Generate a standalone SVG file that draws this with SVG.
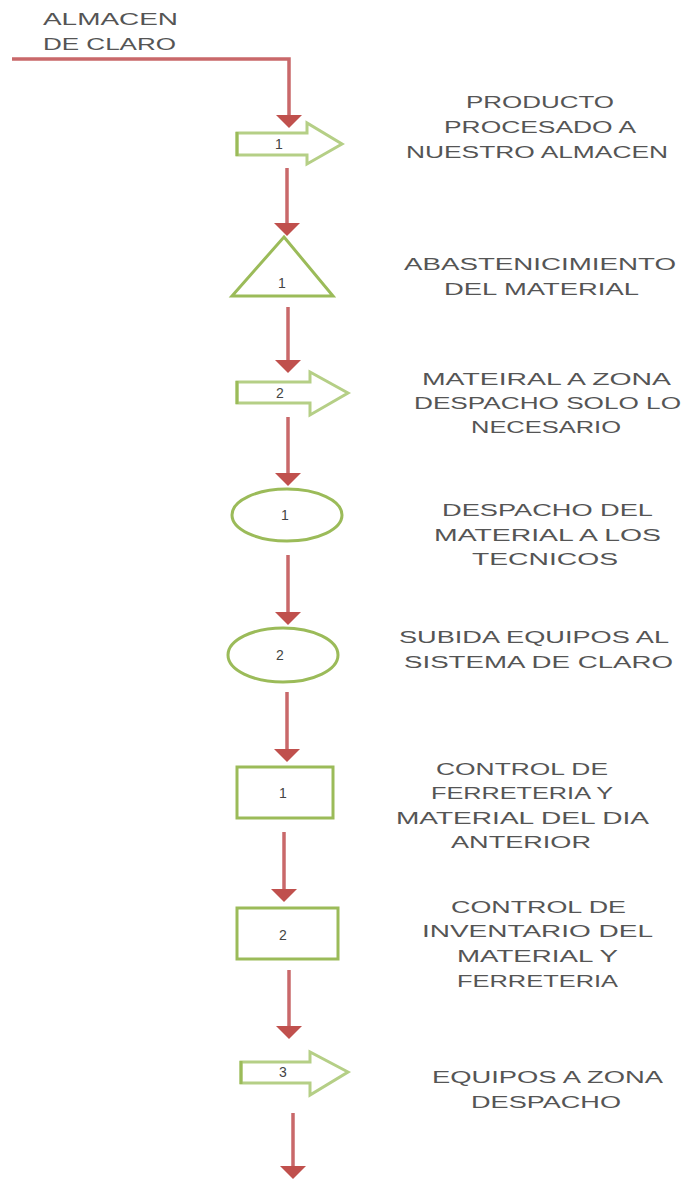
<svg xmlns="http://www.w3.org/2000/svg" width="685" height="1181" viewBox="0 0 685 1181">
<style>
  .lbl { font-family: "Liberation Sans", Arial, sans-serif; font-size: 16px; fill: #555555; }
  .num { font-family: "Liberation Sans", Arial, sans-serif; font-size: 14px; fill: #444444; text-anchor: middle; }
  .shape { fill: #ffffff; stroke: #9bbb59; stroke-width: 3; }
  .blk { fill: #ffffff; stroke: #b5cf86; stroke-width: 3; stroke-linejoin: miter; }
  .conn { fill: none; stroke: #c9686a; stroke-width: 3.5; }
</style>
<defs>
  <marker id="ah" markerUnits="userSpaceOnUse" markerWidth="14" markerHeight="28" refX="0" refY="14" orient="auto" viewBox="0 0 14 28">
    <path d="M0,1 L0,27 L13,14 Z" fill="#c0504d"/>
  </marker>
</defs>
<rect width="685" height="1181" fill="#ffffff"/>

<g id="start-label">
  <text class="lbl" x="43" y="25" textLength="135" lengthAdjust="spacingAndGlyphs">ALMACEN</text>
  <text class="lbl" x="43" y="50" textLength="133" lengthAdjust="spacingAndGlyphs">DE CLARO</text>
</g>

<g id="connectors">
  <polyline class="conn" points="12,59 289,59 289,115" marker-end="url(#ah)"/>
  <line class="conn" x1="287" y1="168" x2="287" y2="223" marker-end="url(#ah)"/>
  <line class="conn" x1="288" y1="307" x2="288" y2="360" marker-end="url(#ah)"/>
  <line class="conn" x1="288" y1="417" x2="288" y2="473" marker-end="url(#ah)"/>
  <line class="conn" x1="288" y1="555" x2="288" y2="612" marker-end="url(#ah)"/>
  <line class="conn" x1="287" y1="692" x2="287" y2="749" marker-end="url(#ah)"/>
  <line class="conn" x1="284" y1="832" x2="284" y2="889" marker-end="url(#ah)"/>
  <line class="conn" x1="289" y1="970" x2="289" y2="1026" marker-end="url(#ah)"/>
  <line class="conn" x1="293" y1="1113" x2="293" y2="1166" marker-end="url(#ah)"/>
</g>

<g id="node-transport-1">
  <polygon class="blk" points="237,133 307,133 307,123 342,144 307,164 307,155 237,155"/>
  <line x1="237" y1="132" x2="237" y2="156" stroke="#9bbb59" stroke-width="3"/>
  <text class="num" x="279" y="149">1</text>
  <text class="lbl" x="466" y="108" textLength="148" lengthAdjust="spacingAndGlyphs">PRODUCTO</text>
  <text class="lbl" x="444" y="133" textLength="192" lengthAdjust="spacingAndGlyphs">PROCESADO A</text>
  <text class="lbl" x="406" y="158" textLength="262" lengthAdjust="spacingAndGlyphs">NUESTRO ALMACEN</text>
</g>

<g id="node-storage-1">
  <polygon class="shape" points="284,237 333,296 232,296"/>
  <text class="num" x="282" y="288">1</text>
  <text class="lbl" x="404" y="270" textLength="272" lengthAdjust="spacingAndGlyphs">ABASTENICIMIENTO</text>
  <text class="lbl" x="444" y="295" textLength="195" lengthAdjust="spacingAndGlyphs">DEL MATERIAL</text>
</g>

<g id="node-transport-2">
  <polygon class="blk" points="237,382 310,382 310,372 348,393 310,415 310,403 237,403"/>
  <line x1="237" y1="381" x2="237" y2="404" stroke="#9bbb59" stroke-width="3"/>
  <text class="num" x="280" y="398">2</text>
  <text class="lbl" x="422" y="385" textLength="249" lengthAdjust="spacingAndGlyphs">MATEIRAL A ZONA</text>
  <text class="lbl" x="414" y="409" textLength="267" lengthAdjust="spacingAndGlyphs">DESPACHO SOLO LO</text>
  <text class="lbl" x="471" y="433" textLength="150" lengthAdjust="spacingAndGlyphs">NECESARIO</text>
</g>

<g id="node-operation-1">
  <ellipse class="shape" cx="287" cy="515" rx="55" ry="26"/>
  <text class="num" x="285" y="520">1</text>
  <text class="lbl" x="442" y="516" textLength="211" lengthAdjust="spacingAndGlyphs">DESPACHO DEL</text>
  <text class="lbl" x="434" y="541" textLength="227" lengthAdjust="spacingAndGlyphs">MATERIAL A LOS</text>
  <text class="lbl" x="472" y="565" textLength="146" lengthAdjust="spacingAndGlyphs">TECNICOS</text>
</g>

<g id="node-operation-2">
  <ellipse class="shape" cx="283" cy="655" rx="55" ry="27"/>
  <text class="num" x="280" y="660">2</text>
  <text class="lbl" x="399" y="643" textLength="270" lengthAdjust="spacingAndGlyphs">SUBIDA EQUIPOS AL</text>
  <text class="lbl" x="404" y="668" textLength="269" lengthAdjust="spacingAndGlyphs">SISTEMA DE CLARO</text>
</g>

<g id="node-inspection-1">
  <rect class="shape" x="237" y="767" width="96" height="51"/>
  <text class="num" x="283" y="798">1</text>
  <text class="lbl" x="436" y="775" textLength="172" lengthAdjust="spacingAndGlyphs">CONTROL DE</text>
  <text class="lbl" x="431" y="799" textLength="182" lengthAdjust="spacingAndGlyphs">FERRETERIA Y</text>
  <text class="lbl" x="396" y="824" textLength="253" lengthAdjust="spacingAndGlyphs">MATERIAL DEL DIA</text>
  <text class="lbl" x="451" y="848" textLength="140" lengthAdjust="spacingAndGlyphs">ANTERIOR</text>
</g>

<g id="node-inspection-2">
  <rect class="shape" x="237" y="908" width="101" height="51"/>
  <text class="num" x="283" y="940">2</text>
  <text class="lbl" x="451" y="913" textLength="175" lengthAdjust="spacingAndGlyphs">CONTROL DE</text>
  <text class="lbl" x="422" y="937" textLength="231" lengthAdjust="spacingAndGlyphs">INVENTARIO DEL</text>
  <text class="lbl" x="457" y="962" textLength="161" lengthAdjust="spacingAndGlyphs">MATERIAL Y</text>
  <text class="lbl" x="457" y="987" textLength="161" lengthAdjust="spacingAndGlyphs">FERRETERIA</text>
</g>

<g id="node-transport-3">
  <polygon class="blk" points="241,1062 310,1062 310,1052 348,1072 310,1095 310,1083 241,1083"/>
  <line x1="241" y1="1061" x2="241" y2="1084" stroke="#9bbb59" stroke-width="3"/>
  <text class="num" x="283" y="1077">3</text>
  <text class="lbl" x="432" y="1083" textLength="231" lengthAdjust="spacingAndGlyphs">EQUIPOS A ZONA</text>
  <text class="lbl" x="471" y="1108" textLength="150" lengthAdjust="spacingAndGlyphs">DESPACHO</text>
</g>
</svg>
